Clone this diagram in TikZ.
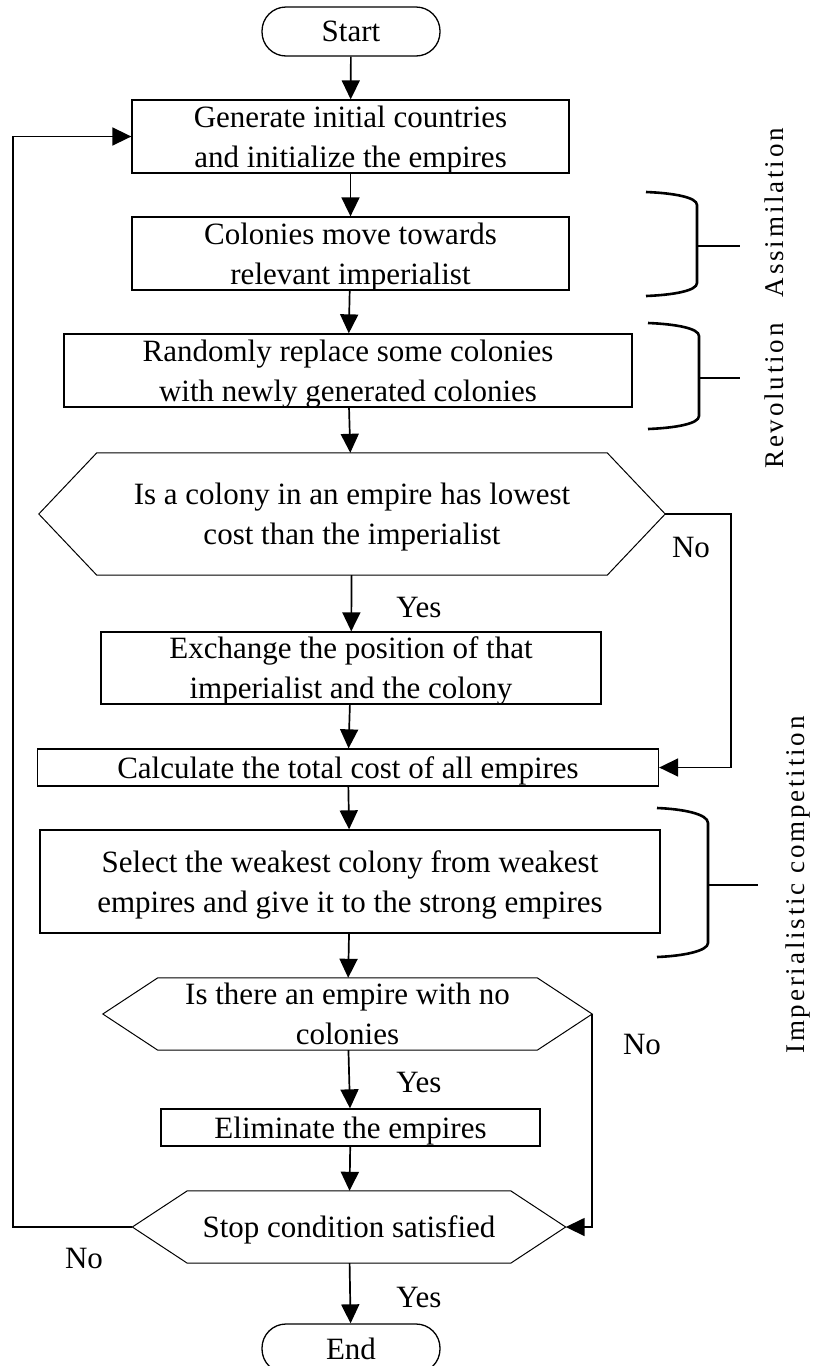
\documentclass[tikz,border=0pt]{standalone}
\usepackage{fontspec}
\setmainfont{Liberation Serif}
\newfontfamily\sidefont[LetterSpace=10.5]{Liberation Serif}
\usetikzlibrary{arrows.meta,calc}

% hexagonal decision outline drawn around a (borderless) rectangle node
\newcommand{\drawhex}[2]{%
  \draw[hexline] (#1.west) -- ($(#1.north west)+(#2,0)$) -- ($(#1.north east)+(-#2,0)$)
    -- (#1.east) -- ($(#1.south east)+(-#2,0)$) -- ($(#1.south west)+(#2,0)$) -- cycle;}

\begin{document}
\begin{tikzpicture}[x=1pt,y=-1pt,
  every node/.style={font=\fontsize{31}{40}\selectfont, inner sep=0pt, text depth=0pt},
  box/.style={draw, line width=1.3pt, align=center},
  term/.style={box, rounded corners=24pt, minimum width=178pt, minimum height=49pt},
  hexarea/.style={align=center},
  hexline/.style={line width=1pt},
  flow/.style={line width=1.7pt, -{Triangle[length=19pt,width=18pt]}},
  brace/.style={line width=2.6pt},
  side/.style={font=\sidefont\fontsize{27}{30}\selectfont, rotate=90, anchor=base}
]
\useasboundingbox (0,0) rectangle (814,1366);
\clip (0,0) rectangle (814,1366);

% process steps
\node[term] (start) at (351,31.5) {Start};
\node[box, minimum width=437pt, minimum height=73pt] (gen) at (350.5,136.5)
  {Generate initial countries\\and initialize the empires};
\node[box, minimum width=437pt, minimum height=73pt] (col) at (350.5,253.5)
  {Colonies move towards\\relevant imperialist};
\node[box, minimum width=568pt, minimum height=73pt] (rnd) at (348,370.5)
  {Randomly replace some colonies\\with newly generated colonies};
\node[hexarea, minimum width=626pt, minimum height=122pt] (d1) at (352,514)
  {Is a colony in an empire has lowest\\cost than the imperialist};
\drawhex{d1}{58}
\node[box, minimum width=500pt, minimum height=72pt] (exch) at (351,668)
  {Exchange the position of that\\imperialist and the colony};
\node[box, minimum width=621pt, minimum height=37pt] (calc) at (348,767.5)
  {Calculate the total cost of all empires};
\node[box, minimum width=620pt, minimum height=103pt] (sel) at (350,881.5)
  {Select the weakest colony from weakest\\empires and give it to the strong empires};
\node[hexarea, minimum width=489pt, minimum height=72pt] (d2) at (347.5,1014)
  {Is there an empire with no\\colonies};
\drawhex{d2}{55}
\node[box, minimum width=379pt, minimum height=37pt] (elim) at (350.5,1127.5)
  {Eliminate the empires};
\node[hexarea, minimum width=433pt, minimum height=72pt] (d3) at (349,1227)
  {Stop condition satisfied};
\drawhex{d3}{55}
\node[term] (end) at (351,1348.5) {End};

% main flow
\draw[flow] (start) -- (gen);
\draw[flow] (gen) -- (col);
\draw[flow] (col) -- (rnd);
\draw[flow] (rnd) -- (d1);
\draw[flow] (d1) -- (exch);
\draw[flow] (exch) -- (calc);
\draw[flow] (calc) -- (sel);
\draw[flow] (sel) -- (d2);
\draw[flow] (d2) -- (elim);
\draw[flow] (elim) -- (d3);
\draw[flow] (d3) -- (end);

% "No" branches
\coordinate (n1) at (731,514);
\draw[flow] (d1.east) -- (n1) |- (calc.east);
\draw[flow] (d2.east) |- (d3.east);
\coordinate (fb) at (12.7,1227);
\draw[flow] (d3.west) -- (fb) |- (gen.west);

% branch labels
\node (yes1) at (419,607) {Yes};
\node (yes2) at (419,1082) {Yes};
\node (yes3) at (419,1297) {Yes};
\node (no1) at (691,547) {No};
\node (no2) at (642,1044) {No};
\node (no3) at (84,1258) {No};

% phase brackets
\draw[brace] (646,192) .. controls (672,193) and (697,197) .. (697,205) -- (697,283)
  .. controls (697,291) and (672,295) .. (646,296);
\draw[brace] (697,246) -- (740,246);
\draw[brace] (648,323) .. controls (674,324) and (699,328) .. (699,336) -- (699,416)
  .. controls (699,424) and (674,428) .. (648,429);
\draw[brace] (699,378) -- (740,378);
\draw[brace] (657,808) .. controls (683,809) and (708,814) .. (708,823) -- (708,943)
  .. controls (708,951) and (683,956) .. (657,957);
\draw[brace] (708,885) -- (758,885);

% phase names
\node[side] (assim) at (783,212.5) {Assimilation};
\node[side] (revol) at (783,396) {Revolution};
\node[side] (imper) at (804,885) {Imperialistic competition};
\end{tikzpicture}
\end{document}
